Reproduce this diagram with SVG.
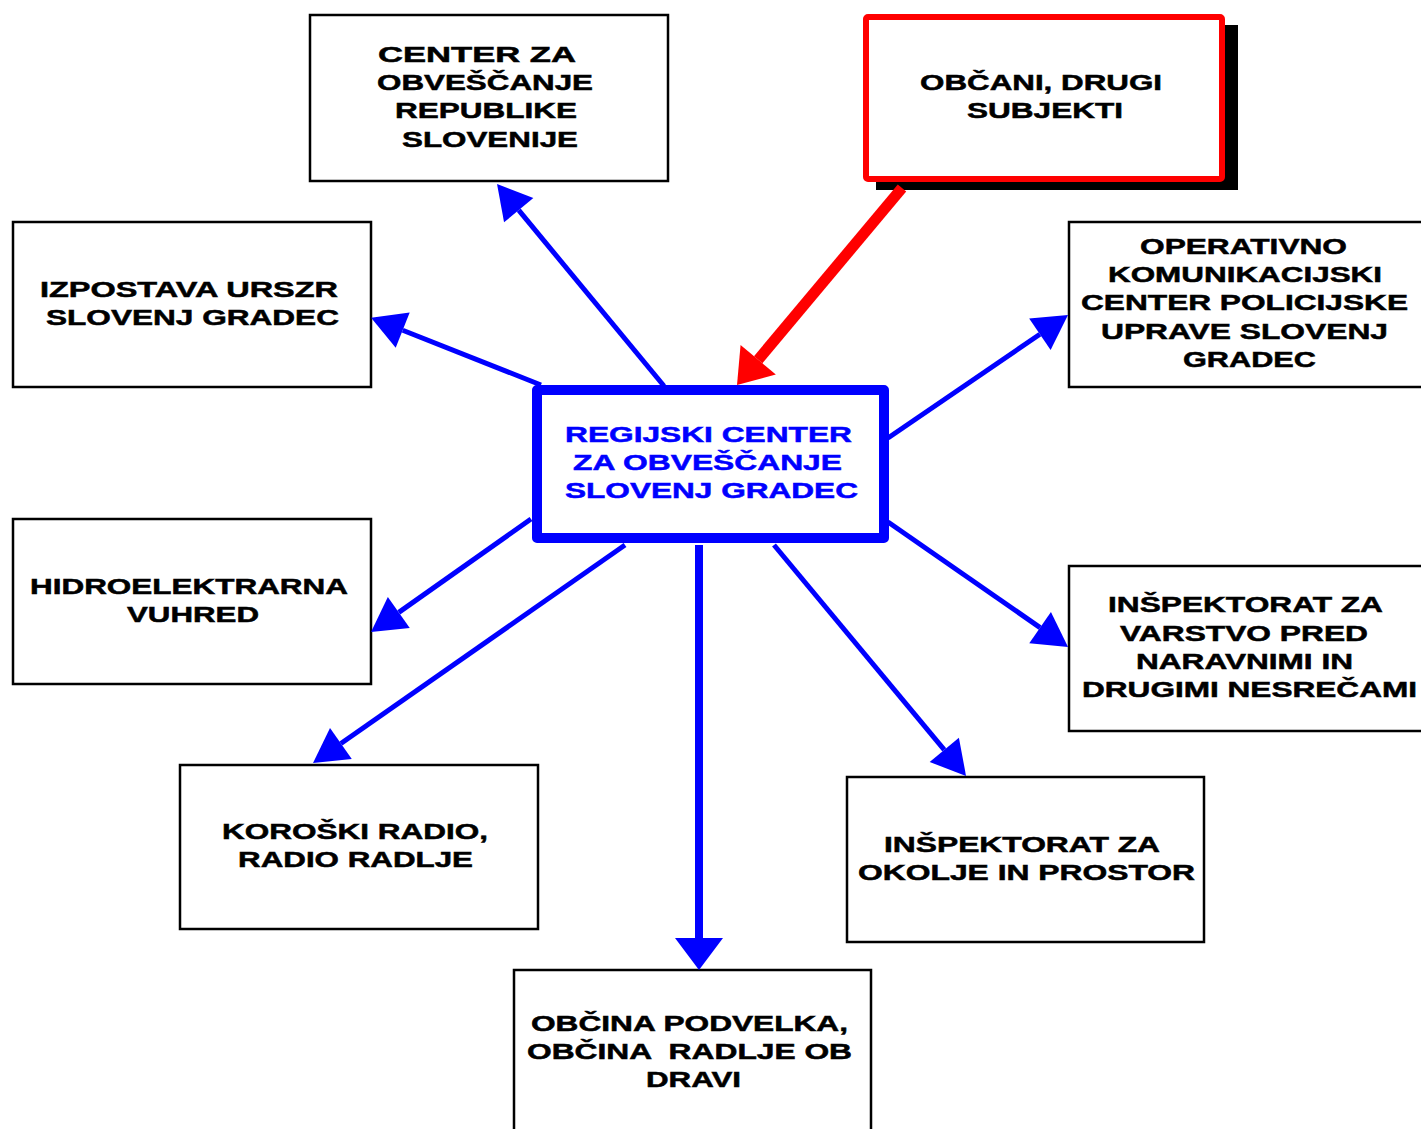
<svg xmlns="http://www.w3.org/2000/svg" width="1421" height="1129" viewBox="0 0 1421 1129">
<style>
.box{fill:#fff;stroke:#000;stroke-width:2.5}
.t{font-family:"Liberation Sans",Arial,sans-serif;font-weight:bold;font-size:22px;fill:#000;stroke:#000;stroke-width:0.5}
.tb{fill:#0000ff;stroke:#0000ff}
.c{fill:none;stroke:#0000ff;stroke-width:5}
</style>
<defs>
<marker id="ah" markerUnits="userSpaceOnUse" markerWidth="40" markerHeight="40" viewBox="0 -20 34 40" refX="0" refY="0" orient="auto" overflow="visible"><path d="M0,-19 L34,0 L0,19 Z" fill="#0000ff"/></marker>
<marker id="ahv" markerUnits="userSpaceOnUse" markerWidth="34" markerHeight="50" viewBox="0 -25 32 50" refX="0" refY="0" orient="auto" overflow="visible"><path d="M0,-24 L32,0 L0,24 Z" fill="#0000ff"/></marker>
<marker id="ahr" markerUnits="userSpaceOnUse" markerWidth="34" markerHeight="48" viewBox="0 -24 33 48" refX="0" refY="0" orient="auto" overflow="visible"><path d="M0,-23 L33,0 L0,23 Z" fill="#ff0000"/></marker>
</defs>
<rect width="1421" height="1129" fill="#fff"/>
<g id="n-center-rs">
<rect class="box" x="310" y="15" width="358" height="166"/>
<text class="t" x="378" y="62" textLength="198" lengthAdjust="spacingAndGlyphs">CENTER ZA</text>
<text class="t" x="377" y="90" textLength="216" lengthAdjust="spacingAndGlyphs">OBVEŠČANJE</text>
<text class="t" x="395" y="118" textLength="182" lengthAdjust="spacingAndGlyphs">REPUBLIKE</text>
<text class="t" x="402" y="147" textLength="176" lengthAdjust="spacingAndGlyphs">SLOVENIJE</text>
</g>
<g id="n-obcani">
<rect x="876" y="25" width="362" height="165" fill="#000"/>
<rect x="866" y="17" width="356" height="162" fill="#fff" stroke="#ff0000" stroke-width="6" rx="2"/>
<text class="t" x="920" y="90" textLength="242" lengthAdjust="spacingAndGlyphs">OBČANI, DRUGI</text>
<text class="t" x="967" y="118" textLength="156" lengthAdjust="spacingAndGlyphs">SUBJEKTI</text>
</g>
<g id="n-izpostava">
<rect class="box" x="13" y="222" width="358" height="165"/>
<text class="t" x="40" y="297" textLength="298" lengthAdjust="spacingAndGlyphs">IZPOSTAVA URSZR</text>
<text class="t" x="46" y="325" textLength="293" lengthAdjust="spacingAndGlyphs">SLOVENJ GRADEC</text>
</g>
<g id="n-okc">
<rect class="box" x="1069" y="222" width="362" height="165"/>
<text class="t" x="1140" y="254" textLength="207" lengthAdjust="spacingAndGlyphs">OPERATIVNO</text>
<text class="t" x="1108" y="282" textLength="274" lengthAdjust="spacingAndGlyphs">KOMUNIKACIJSKI</text>
<text class="t" x="1081" y="310" textLength="327" lengthAdjust="spacingAndGlyphs">CENTER POLICIJSKE</text>
<text class="t" x="1101" y="339" textLength="287" lengthAdjust="spacingAndGlyphs">UPRAVE SLOVENJ</text>
<text class="t" x="1183" y="367" textLength="133" lengthAdjust="spacingAndGlyphs">GRADEC</text>
</g>
<g id="n-regijski">
<rect x="537" y="390" width="347" height="148" fill="#fff" stroke="#0000ff" stroke-width="10" stroke-linejoin="round"/>
<text class="t tb" x="565" y="442" textLength="287" lengthAdjust="spacingAndGlyphs">REGIJSKI CENTER</text>
<text class="t tb" x="573" y="470" textLength="269" lengthAdjust="spacingAndGlyphs">ZA OBVEŠČANJE</text>
<text class="t tb" x="565" y="498" textLength="293" lengthAdjust="spacingAndGlyphs">SLOVENJ GRADEC</text>
</g>
<g id="n-hidro">
<rect class="box" x="13" y="519" width="358" height="165"/>
<text class="t" x="30" y="594" textLength="318" lengthAdjust="spacingAndGlyphs">HIDROELEKTRARNA</text>
<text class="t" x="127" y="622" textLength="132" lengthAdjust="spacingAndGlyphs">VUHRED</text>
</g>
<g id="n-ivpn">
<rect class="box" x="1069" y="566" width="362" height="165"/>
<text class="t" x="1108" y="612" textLength="275" lengthAdjust="spacingAndGlyphs">INŠPEKTORAT ZA</text>
<text class="t" x="1120" y="641" textLength="248" lengthAdjust="spacingAndGlyphs">VARSTVO PRED</text>
<text class="t" x="1136" y="669" textLength="217" lengthAdjust="spacingAndGlyphs">NARAVNIMI IN</text>
<text class="t" x="1082" y="697" textLength="335" lengthAdjust="spacingAndGlyphs">DRUGIMI NESREČAMI</text>
</g>
<g id="n-koroski">
<rect class="box" x="180" y="765" width="358" height="164"/>
<text class="t" x="222" y="839" textLength="266" lengthAdjust="spacingAndGlyphs">KOROŠKI RADIO,</text>
<text class="t" x="238" y="867" textLength="235" lengthAdjust="spacingAndGlyphs">RADIO RADLJE</text>
</g>
<g id="n-okolje">
<rect class="box" x="847" y="777" width="357" height="165"/>
<text class="t" x="884" y="852" textLength="276" lengthAdjust="spacingAndGlyphs">INŠPEKTORAT ZA</text>
<text class="t" x="858" y="880" textLength="337" lengthAdjust="spacingAndGlyphs">OKOLJE IN PROSTOR</text>
</g>
<g id="n-obcina">
<rect class="box" x="514" y="970" width="357" height="175"/>
<text class="t" x="531" y="1031" textLength="317" lengthAdjust="spacingAndGlyphs">OBČINA PODVELKA,</text>
<text class="t" x="527" y="1059" textLength="325" lengthAdjust="spacingAndGlyphs" xml:space="preserve">OBČINA  RADLJE OB</text>
<text class="t" x="646" y="1087" textLength="95" lengthAdjust="spacingAndGlyphs">DRAVI</text>
</g>
<g id="connectors">
<line class="c" x1="664" y1="386" x2="518.7" y2="210.2" marker-end="url(#ah)"/>
<line class="c" x1="541" y1="385" x2="402.7" y2="330.2" marker-end="url(#ah)"/>
<line x1="902" y1="188" x2="758.2" y2="359.7" stroke="#ff0000" stroke-width="11" marker-end="url(#ahr)"/>
<line class="c" x1="888" y1="438" x2="1039.9" y2="334.2" marker-end="url(#ah)"/>
<line class="c" x1="531" y1="519" x2="398.8" y2="612.4" marker-end="url(#ah)"/>
<line class="c" x1="625" y1="545" x2="340.9" y2="743.5" marker-end="url(#ah)"/>
<line x1="699" y1="545" x2="699" y2="938" stroke="#0000ff" stroke-width="8" marker-end="url(#ahv)"/>
<line class="c" x1="774" y1="545" x2="944.3" y2="749.9" marker-end="url(#ah)"/>
<line class="c" x1="888" y1="522" x2="1040.1" y2="627.6" marker-end="url(#ah)"/>
</g>
</svg>
